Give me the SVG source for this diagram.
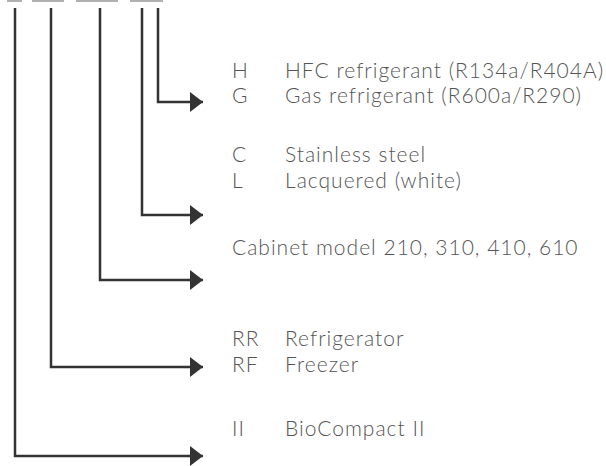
<svg xmlns="http://www.w3.org/2000/svg" width="606" height="466" viewBox="0 0 606 466">
<style>
.t{font-family:Lato,"Open Sans","DejaVu Sans",sans-serif;font-weight:300;font-size:21px;fill:#555;letter-spacing:1px}
.c{fill:none;stroke:#333;stroke-width:2.5}
.bar{fill:#b0b0b0}
</style>
<defs>
<marker id="ah" markerWidth="13" markerHeight="20" refX="13" refY="10" orient="auto" markerUnits="userSpaceOnUse">
<path d="M0,0 L13,10 L0,20 Z" fill="#333"/>
</marker>
</defs>
<g id="bars">
<rect class="bar" x="7" y="0" width="15" height="2"/>
<rect class="bar" x="32" y="0" width="32" height="2"/>
<rect class="bar" x="76" y="0" width="42" height="2"/>
<rect class="bar" x="130" y="0" width="33" height="2"/>
</g>
<g id="connectors">
<path class="c" d="M158,8 V102 H203" marker-end="url(#ah)"/>
<path class="c" d="M142,8 V215 H203" marker-end="url(#ah)"/>
<path class="c" d="M100,8 V280 H203" marker-end="url(#ah)"/>
<path class="c" d="M51,8 V367 H203" marker-end="url(#ah)"/>
<path class="c" d="M15,8 V456 H203" marker-end="url(#ah)"/>
</g>
<g id="refrigerant">
<text class="t" x="232" y="78">H</text><text class="t" x="285" y="78">HFC refrigerant (R134a/R404A)</text>
<text class="t" x="232" y="103">G</text><text class="t" x="285" y="103">Gas refrigerant (R600a/R290)</text>
</g>
<g id="finish">
<text class="t" x="232" y="162">C</text><text class="t" x="285" y="162">Stainless steel</text>
<text class="t" x="232" y="188">L</text><text class="t" x="285" y="188">Lacquered (white)</text>
</g>
<g id="model">
<text class="t" x="232" y="255">Cabinet model 210, 310, 410, 610</text>
</g>
<g id="type">
<text class="t" x="232" y="346">RR</text><text class="t" x="285" y="346">Refrigerator</text>
<text class="t" x="232" y="372">RF</text><text class="t" x="285" y="372">Freezer</text>
</g>
<g id="series">
<text class="t" x="232" y="436">II</text><text class="t" x="285" y="436">BioCompact II</text>
</g>
</svg>
